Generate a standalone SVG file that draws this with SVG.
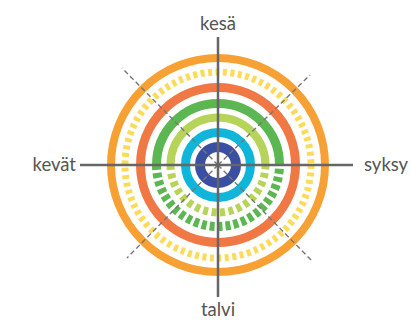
<svg xmlns="http://www.w3.org/2000/svg" width="411" height="321" viewBox="0 0 411 321">
<style>
.ring{fill:none}
.axis{stroke:#666;stroke-width:2.5;fill:none}
.diag{stroke:#777;stroke-width:1.4;stroke-dasharray:5 3;fill:none}
.lbl{font-family:"Lato","Open Sans",sans-serif;font-size:18.5px;fill:#555}
</style>
<rect width="411" height="321" fill="#fff"/>
<g id="rings">
<circle id="ring-orange" class="ring" cx="218" cy="165" r="107" stroke="#F7A135" stroke-width="8"/>
<circle id="ring-yellow" class="ring" cx="218" cy="165" r="93" stroke="#FDDB5A" stroke-width="7" stroke-dasharray="4 3.5"/>
<circle id="ring-red" class="ring" cx="218" cy="165" r="77.5" stroke="#F07845" stroke-width="9"/>
<g id="ring-green">
<path class="ring" d="M156.5,165 A61.5,61.5 0 0 1 279.5,165" stroke="#5CB752" stroke-width="9"/>
<path class="ring" d="M156.5,165 A61.5,61.5 0 0 0 279.5,165" stroke="#5CB752" stroke-width="9" stroke-dasharray="5 3"/>
</g>
<g id="ring-lightgreen">
<path class="ring" d="M170.5,165 A47.5,47.5 0 0 1 265.5,165" stroke="#B7D45A" stroke-width="8"/>
<path class="ring" d="M170.5,165 A47.5,47.5 0 0 0 265.5,165" stroke="#B7D45A" stroke-width="8" stroke-dasharray="5 3.5"/>
</g>
<circle id="ring-cyan" class="ring" cx="218" cy="165" r="32.5" stroke="#0FB6D9" stroke-width="9"/>
<circle id="ring-blue" class="ring" cx="218" cy="165" r="18" stroke="#3A4FA2" stroke-width="10"/>
</g>
<g id="connectors">
<line class="diag" x1="218" y1="165" x2="122" y2="68"/>
<line class="diag" x1="218" y1="165" x2="310" y2="75"/>
<line class="diag" x1="218" y1="165" x2="127" y2="258"/>
<line class="diag" x1="218" y1="165" x2="313" y2="262"/>
<line class="axis" x1="218" y1="37" x2="218" y2="297"/>
<line class="axis" x1="80" y1="165" x2="353" y2="165"/>
</g>
<g id="label-kesa"><text class="lbl" x="218" y="30" text-anchor="middle">kesä</text></g>
<g id="label-kevat"><text class="lbl" x="76" y="171" text-anchor="end">kevät</text></g>
<g id="label-syksy"><text class="lbl" x="364" y="171">syksy</text></g>
<g id="label-talvi"><text class="lbl" x="218" y="316" text-anchor="middle">talvi</text></g>
</svg>
